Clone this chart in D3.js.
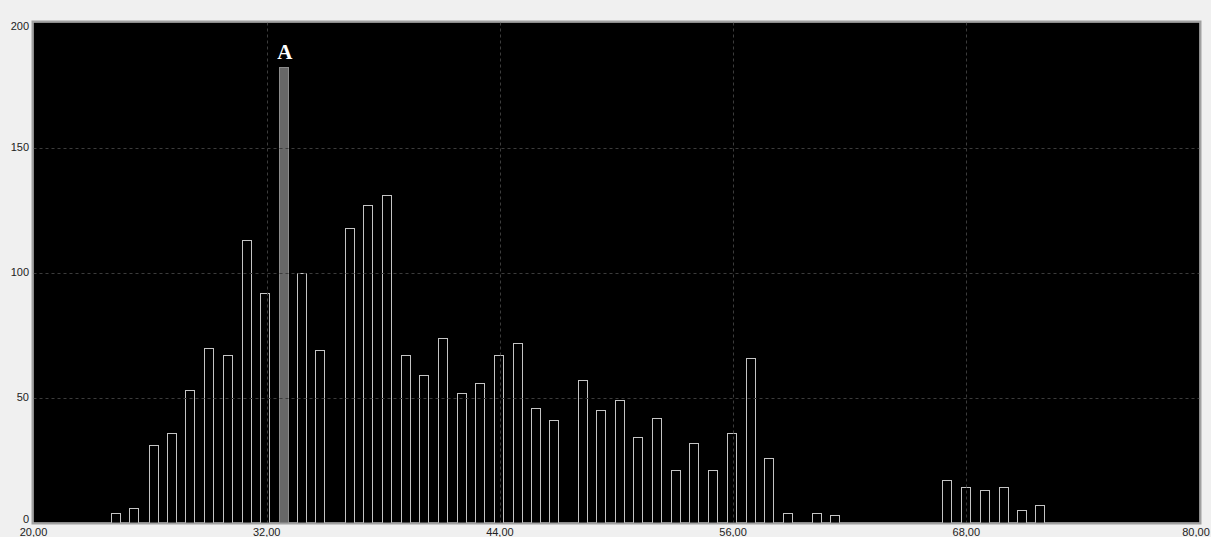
<!DOCTYPE html>
<html>
<head>
<meta charset="utf-8">
<script src="https://cdn.jsdelivr.net/npm/d3@7"></script>
<style>
  html, body { margin: 0; padding: 0; background: #f0f0f0; }
  svg { display: block; }
</style>
</head>
<body>
<svg id="chart" width="1211" height="537"></svg>
<script>
// Left edge of each histogram bin (x units)
const binStarts = [
  23.97, 24.93, 25.93, 26.85, 27.81, 28.77, 29.74, 30.71, 31.67, 32.65,
  33.57, 34.50, 36.01, 36.97, 37.93, 38.90, 39.82, 40.82, 41.78, 42.73,
  43.70, 44.66, 45.62, 46.54, 48.01, 48.95, 49.92, 50.85, 51.83, 52.81,
  53.73, 54.71, 55.69, 56.66, 57.58, 58.58, 60.04, 61.00, 66.77, 67.74,
  68.69, 69.67, 70.59, 71.55
];
// Count in each bin
const counts = [
  4, 6, 31, 36, 53, 70, 67, 113, 92, 182,
  100, 69, 118, 127, 131, 67, 59, 74, 52, 56,
  67, 72, 46, 41, 57, 45, 49, 34, 42, 21,
  32, 21, 36, 66, 26, 4, 4, 3, 17, 14,
  13, 14, 5, 7
];
const binWidth = 0.475;
const markedIndex = 9;
const markLabel = "A";

const xTickValues = [20, 32, 44, 56, 68, 80];
const xTickLabels = ["20,00", "32,00", "44,00", "56,00", "68,00", "80,00"];
const yTickValues = [0, 50, 100, 150, 200];
const yTickLabels = ["0", "50", "100", "150", "200"];
const xGrid = [32, 44, 56, 68];
const yGrid = [50, 100, 150];

const bins = binStarts.map((s, i) => ({ start: s, count: counts[i], marked: i === markedIndex }));

const svg = d3.select("#chart");
const plotLeft = 33.5, plotRight = 1199.5, plotTop = 22.5, plotBottom = 522.5;

const x = d3.scaleLinear().domain([20, 80]).range([plotLeft, plotRight]);
const y = d3.scaleLinear().domain([0, 200]).range([plotBottom, plotTop]);

// Plot background
svg.append("rect")
  .attr("x", plotLeft).attr("y", plotTop)
  .attr("width", plotRight - plotLeft).attr("height", plotBottom - plotTop)
  .attr("fill", "#000");

// Bars
svg.append("g").selectAll("rect")
  .data(bins)
  .join("rect")
  .attr("x", d => Math.round(x(d.start)) + 0.5)
  .attr("y", d => Math.round(y(d.count)) + 0.5)
  .attr("width", d => Math.round(x(d.start + binWidth) - x(d.start)))
  .attr("height", d => Math.round(y(0)) - Math.round(y(d.count)))
  .attr("fill", d => d.marked ? "#676767" : "#000")
  .attr("stroke", d => d.marked ? "#8c8c8c" : "#c4c4c4")
  .attr("stroke-width", 1);

// Grid lines (drawn over the bars)
const grid = svg.append("g")
  .attr("stroke", "#3c3c3c")
  .attr("stroke-width", 1)
  .attr("stroke-dasharray", "3,3");
grid.selectAll("line.v")
  .data(xGrid)
  .join("line")
  .attr("class", "v")
  .attr("x1", d => Math.round(x(d)) + 0.5).attr("x2", d => Math.round(x(d)) + 0.5)
  .attr("y1", plotTop).attr("y2", plotBottom);
grid.selectAll("line.h")
  .data(yGrid)
  .join("line")
  .attr("class", "h")
  .attr("x1", plotLeft).attr("x2", plotRight)
  .attr("y1", d => Math.round(y(d)) + 0.5).attr("y2", d => Math.round(y(d)) + 0.5);

// Mark label above the highlighted bar
const mb = bins[markedIndex];
svg.append("text")
  .attr("x", x(mb.start + binWidth / 2) + 1)
  .attr("y", y(mb.count) - 9)
  .attr("text-anchor", "middle")
  .attr("font-family", "Liberation Serif, Times New Roman, serif")
  .attr("font-weight", "bold")
  .attr("font-size", 21)
  .attr("fill", "#fff")
  .text(markLabel);

// Plot frame
svg.append("rect")
  .attr("x", plotLeft - 1).attr("y", plotTop - 1)
  .attr("width", plotRight - plotLeft + 2).attr("height", plotBottom - plotTop + 2)
  .attr("fill", "none")
  .attr("stroke", "#a0a0a0")
  .attr("stroke-width", 2);

// Y axis labels
svg.append("g").selectAll("text")
  .data(yTickValues)
  .join("text")
  .attr("x", 29)
  .attr("y", d => Math.max(26, Math.min(519, y(d))))
  .attr("dy", "0.35em")
  .attr("text-anchor", "end")
  .attr("font-family", "Liberation Sans, Arial, sans-serif")
  .attr("font-size", 11)
  .attr("fill", "#222")
  .text((d, i) => yTickLabels[i]);

// X axis labels (the last one is kept inside the page edge)
svg.append("g").selectAll("text")
  .data(xTickValues)
  .join("text")
  .attr("x", d => Math.min(x(d), 1196))
  .attr("y", 536)
  .attr("text-anchor", "middle")
  .attr("font-family", "Liberation Sans, Arial, sans-serif")
  .attr("font-size", 11)
  .attr("fill", "#222")
  .text((d, i) => xTickLabels[i]);
</script>
</body>
</html>
